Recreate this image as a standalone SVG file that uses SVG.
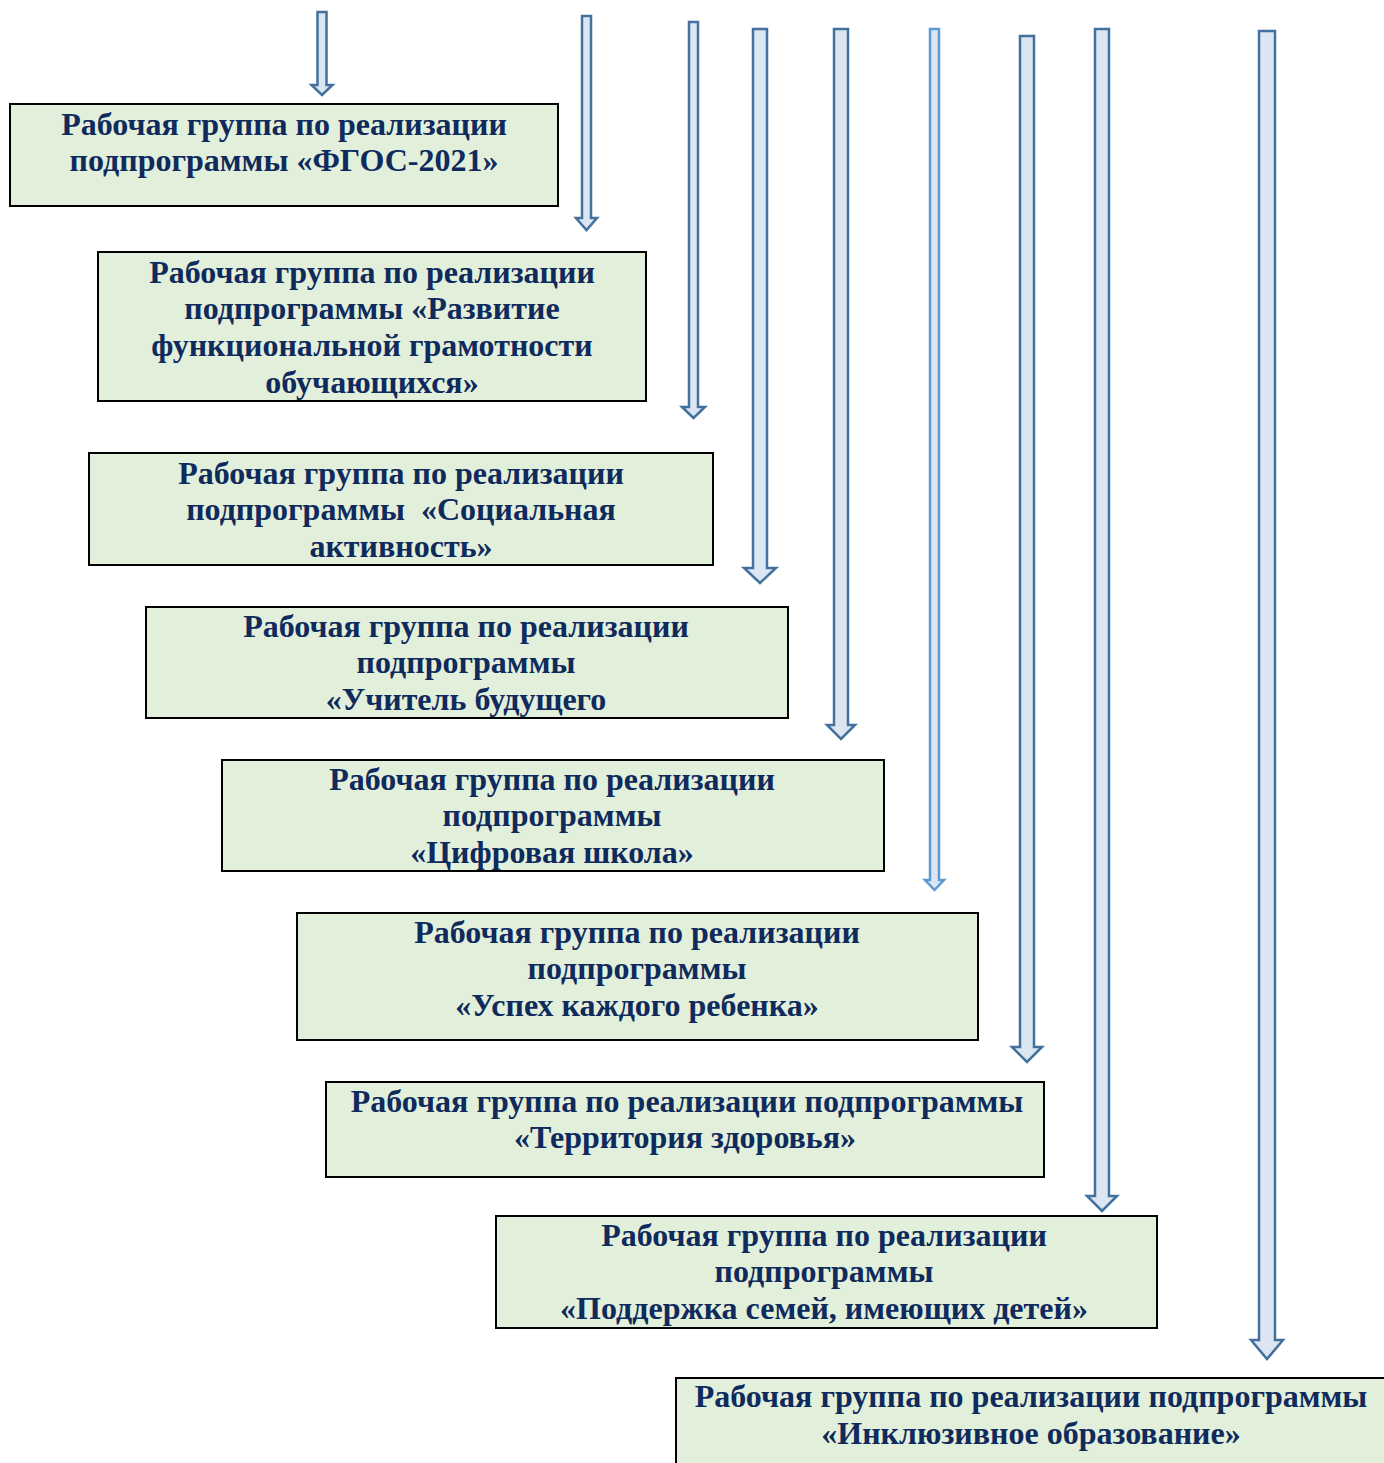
<svg xmlns="http://www.w3.org/2000/svg" width="1384" height="1463" viewBox="0 0 1384 1463">
<style>
.box{fill:#e2efda;stroke:#000;stroke-width:2}
.t{font-family:"Liberation Serif","Times New Roman",serif;font-weight:bold;font-size:32px;fill:#0f2a5c;text-anchor:middle}
.ar{fill:#dce6f2;stroke:#41719c;stroke-width:2.5;stroke-linejoin:miter}
.ar2{fill:#dce6f2;stroke:#5b9bd5;stroke-width:2.5}
</style>
<rect width="1384" height="1463" fill="#fff"/>
<g id="connectors">
<polygon class="ar" points="317.5,12 326.5,12 326.5,85 332.5,85 322,95 311.5,85 317.5,85"/>
<polygon class="ar" points="582,16 591,16 591,218 597,218 586.5,230 576,218 582,218"/>
<polygon class="ar" points="689,22 698,22 698,407 705,407 693.5,418 682,407 689,407"/>
<polygon class="ar" points="753,29 767,29 767,568 776,568 760,583 744,568 753,568"/>
<polygon class="ar" points="834,29 848,29 848,725 855,725 841,739 827,725 834,725"/>
<polygon class="ar2" points="930,29 939,29 939,880 944,880 934.5,890 925,880 930,880"/>
<polygon class="ar" points="1020,36 1034,36 1034,1047 1042,1047 1027,1062 1012,1047 1020,1047"/>
<polygon class="ar" points="1095,29 1109,29 1109,1196 1117,1196 1102,1211 1087,1196 1095,1196"/>
<polygon class="ar" points="1259,31 1275,31 1275,1340 1283,1340 1267,1359 1251,1340 1259,1340"/>
</g>
<g id="node1"><rect class="box" x="10" y="104" width="548" height="102"/>
<text class="t" x="284" y="135">Рабочая группа по реализации</text>
<text class="t" x="284" y="171">подпрограммы «ФГОС-2021»</text></g>
<g id="node2"><rect class="box" x="98" y="252" width="548" height="149"/>
<text class="t" x="372" y="283">Рабочая группа по реализации</text>
<text class="t" x="372" y="319">подпрограммы «Развитие</text>
<text class="t" x="372" y="356">функциональной грамотности</text>
<text class="t" x="372" y="393">обучающихся»</text></g>
<g id="node3"><rect class="box" x="89" y="453" width="624" height="112"/>
<text class="t" x="401" y="484">Рабочая группа по реализации</text>
<text class="t" x="401" y="520" xml:space="preserve">подпрограммы  «Социальная</text>
<text class="t" x="401" y="557">активность»</text></g>
<g id="node4"><rect class="box" x="146" y="607" width="642" height="111"/>
<text class="t" x="466" y="637">Рабочая группа по реализации</text>
<text class="t" x="466" y="673">подпрограммы</text>
<text class="t" x="466" y="710">«Учитель будущего</text></g>
<g id="node5"><rect class="box" x="222" y="760" width="662" height="111"/>
<text class="t" x="552" y="790">Рабочая группа по реализации</text>
<text class="t" x="552" y="826">подпрограммы</text>
<text class="t" x="552" y="863">«Цифровая школа»</text></g>
<g id="node6"><rect class="box" x="297" y="913" width="681" height="127"/>
<text class="t" x="637" y="943">Рабочая группа по реализации</text>
<text class="t" x="637" y="979">подпрограммы</text>
<text class="t" x="637" y="1016">«Успех каждого ребенка»</text></g>
<g id="node7"><rect class="box" x="326" y="1082" width="718" height="95"/>
<text class="t" x="687" y="1112">Рабочая группа по реализации подпрограммы</text>
<text class="t" x="685" y="1148">«Территория здоровья»</text></g>
<g id="node8"><rect class="box" x="496" y="1216" width="661" height="112"/>
<text class="t" x="824" y="1246">Рабочая группа по реализации</text>
<text class="t" x="824" y="1282">подпрограммы</text>
<text class="t" x="824" y="1319">«Поддержка семей, имеющих детей»</text></g>
<g id="node9"><rect class="box" x="676" y="1378" width="720" height="100"/>
<text class="t" x="1031" y="1407">Рабочая группа по реализации подпрограммы</text>
<text class="t" x="1031" y="1444">«Инклюзивное образование»</text></g>
</svg>
